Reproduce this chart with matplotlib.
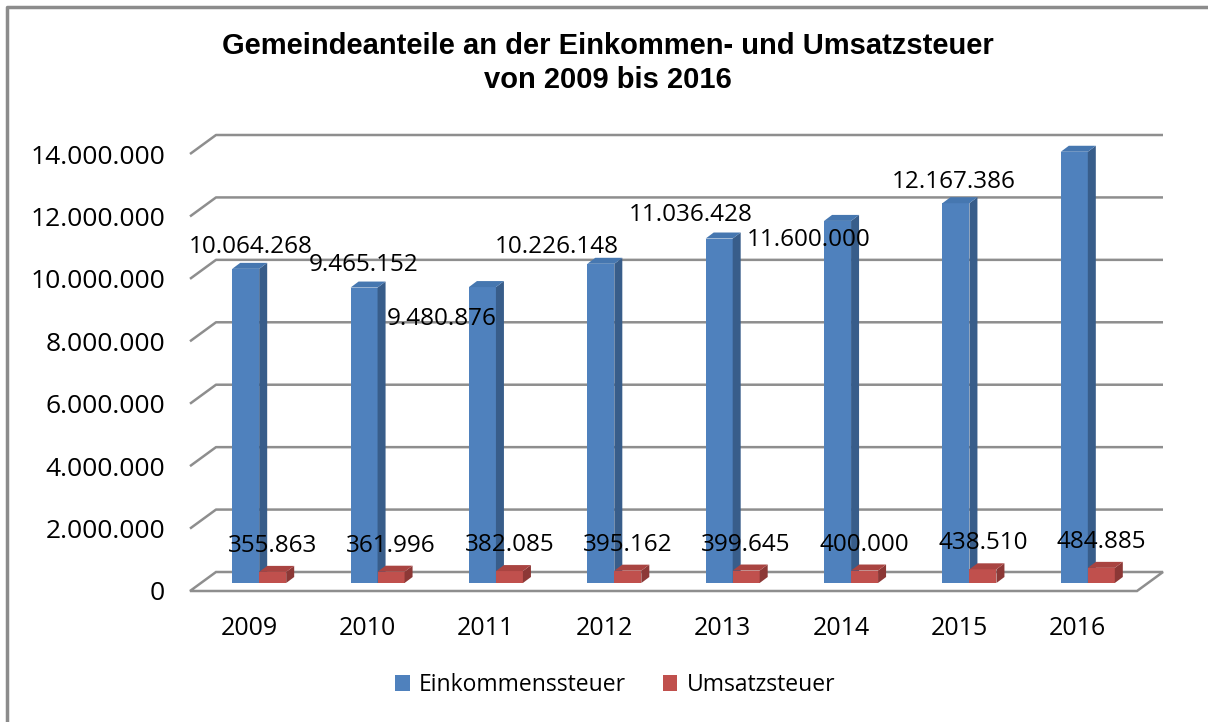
import matplotlib.pyplot as plt
from matplotlib.patches import Polygon, Patch
from matplotlib.lines import Line2D

years = ['2009', '2010', '2011', '2012', '2013', '2014', '2015', '2016']
einkommen = [10064268, 9465152, 9480876, 10226148, 11036428, 11600000, 12167386, 13815310]
umsatz = [355863, 361996, 382085, 395162, 399645, 400000, 438510, 484885]
y_ticks = [0, 2000000, 4000000, 6000000, 8000000, 10000000, 12000000, 14000000]

# manual label placement (pixels, like in the original Excel chart)
ek_label_offsets = [(5, 22), (0, 23), (-41, -32), (-44, 17), (-28, 24), (-29, -19), (-2, 21), (-8, 24)]

blue, blue_side, blue_top = '#4F81BD', '#385D8A', '#4677B0'
red, red_side, red_top = '#C0504D', '#8C3836', '#A94441'
grid_col = '#8E8E8E'

W, H = 1208, 722
fig = plt.figure(figsize=(W / 100, H / 100), dpi=100)
fig.patch.set_facecolor('white')
plt.rcParams['font.family'] = ['Open Sans', 'DejaVu Sans']

left, right, y0, y14 = 190, 1137, 591, 154
ax = fig.add_axes([left / W, (H - y0) / H, (right - left) / W, (y0 - y14) / H])
ax.set_xlim(-0.5, 7.5)
ax.set_ylim(0, 14000000)
for s in ax.spines.values():
    s.set_visible(False)
ax.patch.set_alpha(0)

px_x = 8 / (right - left)
px_y = 14000000 / (y0 - y14)

# depth of the 3d box and of the bars
DX, DY = 26 * px_x, 19 * px_y
dx, dy = 8 * px_x, 6 * px_y

# floor
floor = Polygon([(-0.5, 0), (7.5, 0), (7.5 + DX, DY), (-0.5 + DX, DY)],
                closed=True, facecolor='white', edgecolor=grid_col, lw=1.8, zorder=1, clip_on=False)
ax.add_patch(floor)

# gridlines on left wall and back wall
for t in y_ticks[1:]:
    ax.plot([-0.5, -0.5 + DX, 7.5 + DX], [t, t + DY, t + DY], color=grid_col, lw=1.8,
            zorder=1, clip_on=False, solid_capstyle='butt')

base = 8 * px_y
bw = 27 * px_x


def bar3d(x, v, face, side, top):
    ax.bar(x, v, bottom=base, width=bw, align='edge', color=face, zorder=3, clip_on=False)
    xr = x + bw
    ax.add_patch(Polygon([(xr, base), (xr + dx, base + dy), (xr + dx, base + v + dy), (xr, base + v)],
                         closed=True, facecolor=side, edgecolor='none', zorder=3, clip_on=False))
    ax.add_patch(Polygon([(x, base + v), (xr, base + v), (xr + dx, base + v + dy), (x + dx, base + v + dy)],
                         closed=True, facecolor=top, edgecolor='none', zorder=3, clip_on=False))


for i in range(len(years)):
    xb = i - 17 * px_x
    xr_ = i + 10 * px_x
    bar3d(xb, einkommen[i], blue, blue_side, blue_top)
    bar3d(xr_, umsatz[i], red, red_side, red_top)

    lab = f'{einkommen[i]:,}'.replace(',', '.')
    ax.annotate(lab, (xb + bw / 2, base + einkommen[i]), xytext=ek_label_offsets[i],
                textcoords='offset pixels', ha='center', va='center', fontsize=17.5, zorder=5)
    lab = f'{umsatz[i]:,}'.replace(',', '.')
    ax.annotate(lab, (xr_ + bw / 2, base + umsatz[i]), xytext=(0, 26),
                textcoords='offset pixels', ha='center', va='center', fontsize=17.5, zorder=5)

ax.set_xticks(range(len(years)), years)
ax.set_yticks(y_ticks, [f'{t:,}'.replace(',', '.') for t in y_ticks])
ax.tick_params(axis='both', length=0)
ax.tick_params(axis='x', pad=18, labelsize=18)
ax.tick_params(axis='y', pad=18, labelsize=19)

fig.text(0.503, 1 - 63 / H, 'Gemeindeanteile an der Einkommen- und Umsatzsteuer\nvon 2009 bis 2016',
         ha='center', va='center', fontsize=21, fontweight='bold', family='Liberation Sans',
         linespacing=1.3)

handles = [Patch(facecolor=blue, label='Einkommenssteuer'), Patch(facecolor=red, label='Umsatzsteuer')]
fig.legend(handles=handles, loc='center', bbox_to_anchor=(615 / W, 1 - 685 / H), ncol=2,
           frameon=False, fontsize=16.5, handlelength=0.65, handleheight=0.65,
           handletextpad=0.4, columnspacing=1.6)

# chart border (only top and left visible)
fig.add_artist(Line2D([7 / W, 7 / W, 1], [0, 1 - 7 / H, 1 - 7 / H], transform=fig.transFigure,
                      color='#8C8C8C', lw=2.5))

fig.savefig('out.png', dpi=100)
